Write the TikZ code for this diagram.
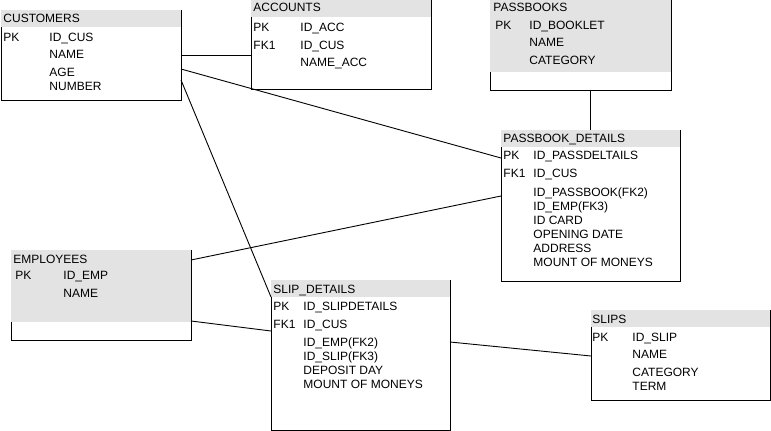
\documentclass[tikz,border=0pt]{standalone}
\usepackage{fontspec}
\setmainfont{Liberation Sans}
\usepackage{tikz}
\usetikzlibrary{calc}
\definecolor{hdrgray}{RGB}{227,227,227}

\begin{document}
\begin{tikzpicture}[x=1pt,y=-1pt,line width=0.9pt,
    tbl/.style={anchor=north west,inner sep=0pt,outer sep=0pt,minimum width=180pt},
    lbl/.style={anchor=base west,inner sep=0pt,font=\fontsize{12}{14}\selectfont}]
              \useasboundingbox (0,0) rectangle (771,431);
              % tables
              \node[tbl,minimum height=90pt](cus)at(1,10){};
              \node[tbl,minimum height=89pt](acc)at(251,0){};
              \node[tbl,minimum width=181pt,minimum height=90pt](pbk)at(490,0){};
              \node[tbl,minimum width=179pt,minimum height=151pt](pbd)at(501,130){};
              \node[tbl,minimum height=90pt](emp)at(11,250){};
              \node[tbl,minimum width=179pt,minimum height=150pt](sld)at(271,280){};
              \node[tbl,minimum width=179pt,minimum height=90pt](slp)at(591,310){};
              \fill[hdrgray](cus.north west)rectangle([yshift=-17pt]cus.north east);
              \fill[hdrgray](acc.north west)rectangle([yshift=-17pt]acc.north east);
              \fill[hdrgray](pbk.north west)rectangle([yshift=-72pt]pbk.north east);
              \fill[hdrgray](pbd.north west)rectangle([yshift=-17pt]pbd.north east);
              \fill[hdrgray](emp.north west)rectangle([yshift=-72pt]emp.north east);
              \fill[hdrgray](sld.north west)rectangle([yshift=-17pt]sld.north east);
              \fill[hdrgray](slp.north west)rectangle([yshift=-17pt]slp.north east);
              \draw([yshift=-17pt]cus.north west)|-(cus.south east)--(cus.north east);
              \draw([yshift=-17pt]acc.north west)|-(acc.south east)--(acc.north east);
              \draw([yshift=-72pt]pbk.north west)|-(pbk.south east)--(pbk.north east);
              \draw([yshift=-17pt]pbd.north west)|-(pbd.south east)--(pbd.north east);
              \draw([yshift=-72pt]emp.north west)|-(emp.south east)--(emp.north east);
              \draw([yshift=-17pt]sld.north west)|-(sld.south east)--(sld.north east);
              \draw([yshift=-17pt]slp.north west)|-(slp.south east)--(slp.north east);
              % CUSTOMERS
              \node[lbl](cusT)at(3,23){CUSTOMERS};
              \node[lbl](cusPK)at(3,41){PK};
              \node[lbl](cusA)at(49,41){ID\_CUS};
              \node[lbl](cusB)at(49,58){NAME};
              \node[lbl](cusC)at(49,76){AGE};
              \node[lbl](cusD)at(49,90){NUMBER};
              % ACCOUNTS
              \node[lbl](accT)at(253,12){ACCOUNTS};
              \node[lbl](accPK)at(253,31){PK};
              \node[lbl](accFK)at(253,49){FK1};
              \node[lbl](accA)at(300,31){ID\_ACC};
              \node[lbl](accB)at(300,49){ID\_CUS};
              \node[lbl](accC)at(300,66){NAME\_ACC};
              % PASSBOOKS
              \node[lbl](pbkT)at(493,12){PASSBOOKS};
              \node[lbl](pbkPK)at(495,29){PK};
              \node[lbl](pbkA)at(529,29){ID\_BOOKLET};
              \node[lbl](pbkB)at(529,46){NAME};
              \node[lbl](pbkC)at(529,64){CATEGORY};
              % PASSBOOK_DETAILS
              \node[lbl](pbdT)at(503,142){PASSBOOK\_DETAILS};
              \node[lbl](pbdPK)at(503,159){PK};
              \node[lbl](pbdFK)at(503,177){FK1};
              \node[lbl](pbdA)at(533,159){ID\_PASSDELTAILS};
              \node[lbl](pbdB)at(533,177){ID\_CUS};
              \node[lbl](pbdC)at(533,196){ID\_PASSBOOK(FK2)};
              \node[lbl](pbdD)at(533,210){ID\_EMP(FK3)};
              \node[lbl](pbdE)at(533,224){ID CARD};
              \node[lbl](pbdF)at(533,238){OPENING DATE};
              \node[lbl](pbdG)at(533,252){ADDRESS};
              \node[lbl](pbdH)at(533,266){MOUNT OF MONEYS};
              % EMPLOYEES
              \node[lbl](empT)at(13,263){EMPLOYEES};
              \node[lbl](empPK)at(15,279){PK};
              \node[lbl](empA)at(63,279){ID\_EMP};
              \node[lbl](empB)at(63,297){NAME};
              % SLIP_DETAILS
              \node[lbl](sldT)at(273,293){SLIP\_DETAILS};
              \node[lbl](sldPK)at(273,310){PK};
              \node[lbl](sldFK)at(273,328){FK1};
              \node[lbl](sldA)at(303,310){ID\_SLIPDETAILS};
              \node[lbl](sldB)at(303,328){ID\_CUS};
              \node[lbl](sldC)at(303,346){ID\_EMP(FK2)};
              \node[lbl](sldD)at(303,360){ID\_SLIP(FK3)};
              \node[lbl](sldE)at(303,374){DEPOSIT DAY};
              \node[lbl](sldF)at(303,388){MOUNT OF MONEYS};
              % SLIPS
              \node[lbl](slpT)at(592,323){SLIPS};
              \node[lbl](slpPK)at(592,341){PK};
              \node[lbl](slpA)at(632,341){ID\_SLIP};
              \node[lbl](slpB)at(632,358){NAME};
              \node[lbl](slpC)at(632,376){CATEGORY};
              \node[lbl](slpD)at(632,390){TERM};
              % relations
              \draw([yshift=-45pt]cus.north east)--([yshift=-55pt]acc.north west);
              \draw([yshift=-59pt]cus.north east)--([yshift=-28pt]pbd.north west);
              \draw([yshift=-70pt]cus.north east)--([yshift=-17pt]sld.north west);
              \draw(pbd.north|-pbk.south)--(pbd.north);
              \draw([yshift=-10pt]emp.north east)--([yshift=-66pt]pbd.north west);
              \draw([yshift=-71pt]emp.north east)--([yshift=-51pt]sld.north west);
              \draw([yshift=-62pt]sld.north east)--([yshift=-46pt]slp.north west);
            \end{tikzpicture}
\end{document}
